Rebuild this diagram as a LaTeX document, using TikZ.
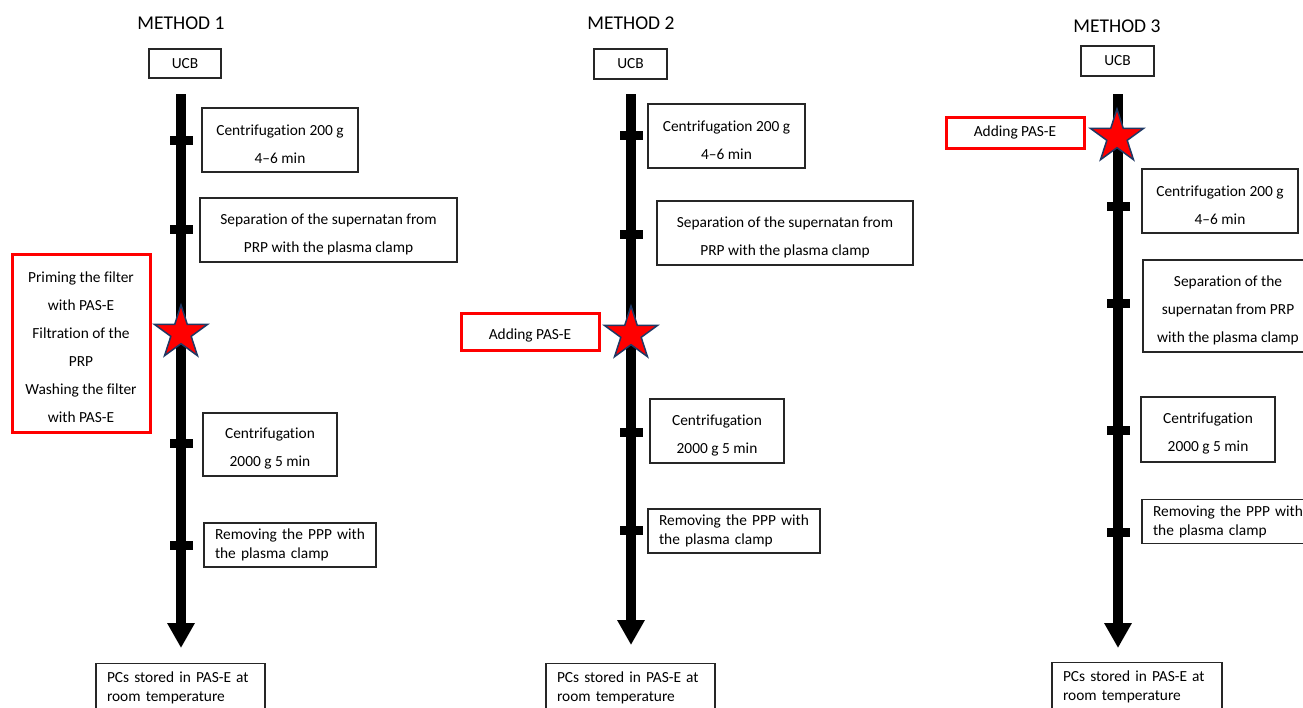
\documentclass[tikz,border=0pt]{standalone}
\usepackage{fontspec}
\setmainfont{Carlito}[Ligatures=NoCommon]
\usetikzlibrary{arrows.meta,shapes.geometric}
\definecolor{starline}{RGB}{31,56,100}
\newcommand\lift{\rule{0pt}{19pt}}
\begin{document}
\begin{tikzpicture}[x=1pt,y=-1pt,
  every node/.style={font=\fontsize{15.4}{28}\selectfont},
  stepbox/.style={draw=black!85,line width=1.4pt,align=center,inner sep=0pt},
  notebox/.style={draw=black!85,line width=1.4pt,align=left,inner xsep=11pt,inner ysep=6pt,font=\fontsize{15.4}{19}\selectfont},
  addbox/.style={draw=red,line width=3pt,align=center,inner sep=0pt},
  methodtitle/.style={font=\fontsize{19.5}{23}\selectfont},
  axis/.style={line width=10pt,-{Triangle[width=26pt,length=25pt]}},
  tickmark/.style={line width=9pt},
  addstar/.style={star,star points=5,star point ratio=2.618,minimum size=56pt,inner sep=0pt,fill=red,draw=starline,line width=1.5pt}]
  \useasboundingbox (0,0) rectangle (1303,707);
  \clip (0,0) rectangle (1303,707);

  % method 1
  \node[methodtitle] (titleA) at (181,23) {METHOD 1};
  \node[stepbox,minimum width=72pt,minimum height=29pt] (ucbA) at (185,63.5) {UCB};
  \node[stepbox,minimum width=156pt,minimum height=64pt] (centA) at (280,140) {\lift Centrifugation 200 g\\4--6 min};
  \node[stepbox,minimum width=257pt,minimum height=64pt] (sepA) at (328.5,230) {\lift Separation of the supernatan from\\PRP with the plasma clamp};
  \node[addbox,minimum width=138pt,minimum height=178pt] (filterA) at (81,343) {\lift Priming the filter\\with PAS-E\\Filtration of the\\PRP\\Washing the filter\\with PAS-E};
  \node[stepbox,minimum width=134pt,minimum height=63pt] (spinA) at (270,444.5) {\lift Centrifugation\\2000 g 5 min};
  \node[notebox,text width=150pt] (pppA) at (290,545) {Removing the PPP with\\the plasma clamp};
  \node[notebox,text width=147pt,anchor=north,inner ysep=8pt] (pcsA) at (180.5,663) {PCs stored in PAS-E at\\room temperature};
  \coordinate (topA) at (181,94);
  \coordinate (endA) at (181,648);
  \draw[axis] (topA) -- (endA);
  \foreach \y in {140,229,443,545}
    \draw[tickmark] (170,\y) -- (193,\y);
  \node[addstar] (starA) at (181,333) {};

  % method 2
  \node[methodtitle] (titleB) at (631,23) {METHOD 2};
  \node[stepbox,minimum width=73pt,minimum height=30pt] (ucbB) at (630.5,64) {UCB};
  \node[stepbox,minimum width=157pt,minimum height=64pt] (centB) at (726.5,136) {\lift Centrifugation 200 g\\4--6 min};
  \node[stepbox,minimum width=256pt,minimum height=64pt] (sepB) at (785,233) {\lift Separation of the supernatan from\\PRP with the plasma clamp};
  \node[addbox,minimum width=138pt,minimum height=37pt] (addB) at (530,331.5) {\lift Adding PAS-E};
  \node[stepbox,minimum width=134pt,minimum height=64pt] (spinB) at (717,431) {\lift Centrifugation\\2000 g 5 min};
  \node[notebox,text width=150pt] (pppB) at (734,531) {Removing the PPP with\\the plasma clamp};
  \node[notebox,text width=147pt,anchor=north,inner ysep=8pt] (pcsB) at (630.5,663) {PCs stored in PAS-E at\\room temperature};
  \coordinate (topB) at (631,94);
  \coordinate (endB) at (631,645);
  \draw[axis] (topB) -- (endB);
  \foreach \y in {135,234,432,530}
    \draw[tickmark] (620,\y) -- (643,\y);
  \node[addstar] (starB) at (631,334) {};

  % method 3
  \node[methodtitle] (titleC) at (1117,26) {METHOD 3};
  \node[stepbox,minimum width=73pt,minimum height=30pt] (ucbC) at (1117.5,61) {UCB};
  \node[addbox,minimum width=138pt,minimum height=31pt] (addC) at (1015,132.5) {Adding PAS-E};
  \node[stepbox,minimum width=156pt,minimum height=64pt] (centC) at (1220,201) {\lift Centrifugation 200 g\\4--6 min};
  \node[stepbox,minimum width=170pt,minimum height=92pt] (sepC) at (1228,306) {\lift Separation of the\\supernatan from PRP\\with the plasma clamp};
  \node[stepbox,minimum width=134pt,minimum height=65pt] (spinC) at (1208,429.5) {\lift Centrifugation\\2000 g 5 min};
  \node[notebox,text width=150pt] (pppC) at (1228,521.5) {Removing the PPP with\\the plasma clamp};
  \node[notebox,text width=148pt,anchor=north,inner ysep=8pt] (pcsC) at (1137,662) {PCs stored in PAS-E at\\room temperature};
  \coordinate (topC) at (1118,94);
  \coordinate (endC) at (1118,648);
  \draw[axis] (topC) -- (endC);
  \foreach \y in {206,303,430,532}
    \draw[tickmark] (1107,\y) -- (1130,\y);
  \node[addstar] (starC) at (1117,137) {};
\end{tikzpicture}
\end{document}
